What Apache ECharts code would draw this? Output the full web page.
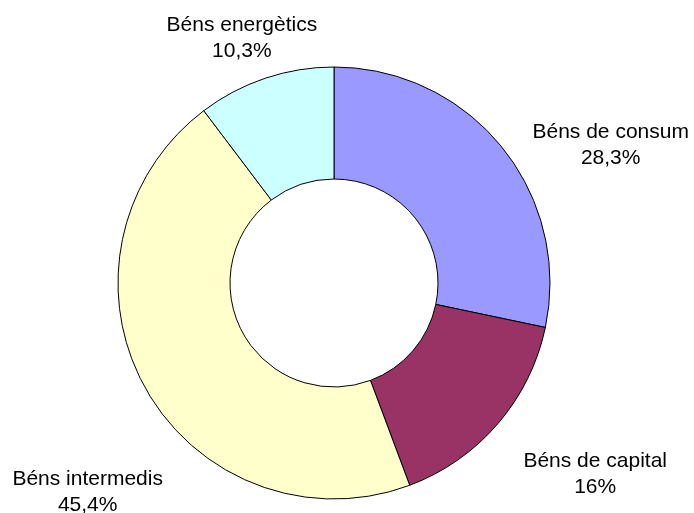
<!DOCTYPE html>
<html>
<head>
<meta charset="utf-8">
<script src="https://cdn.jsdelivr.net/npm/echarts@6/dist/echarts.min.js"></script>
<style>
  html, body { margin: 0; padding: 0; background: #fff; }
  #chart { width: 694px; height: 513px; }
</style>
</head>
<body>
<div id="chart"></div>
<script>
// Donut: Béns per tipus
var categories = ['Béns de consum', 'Béns de capital', 'Béns intermedis', 'Béns energètics'];
var values = [28.3, 16, 45.4, 10.3];
var valueLabels = ['28,3%', '16%', '45,4%', '10,3%'];
var colors = ['#9999FF', '#993366', '#FFFFCC', '#CCFFFF'];

// small label nudges so they sit where the original put them
var labelShift = [[18, 5], [13, 44], [32, 100], [60, -31]];

var chart = echarts.init(document.getElementById('chart'));
chart.setOption({
    animation: false,
    color: colors,
    series: [{
        type: 'pie',
        center: [334, 283],
        radius: [104, 216],
        startAngle: 90,
        clockwise: true,
        avoidLabelOverlap: false,
        data: categories.map(function (c, i) {
            return { name: c, value: values[i] };
        }),
        itemStyle: {
            borderColor: '#000',
            borderWidth: 1
        },
        label: {
            show: true,
            position: 'outside',
            fontFamily: '"Liberation Sans", Arial, sans-serif',
            fontSize: 21,
            lineHeight: 26,
            color: '#000',
            formatter: function (p) {
                return p.name + '\n' + valueLabels[p.dataIndex];
            }
        },
        labelLine: { show: false, length: 10, length2: 0 },
        labelLayout: function (p) {
            var w = p.labelRect.width;
            var s = labelShift[p.dataIndex];
            return {
                align: 'center',
                dx: (p.align === 'left' ? 1 : -1) * w / 2 + s[0],
                dy: s[1]
            };
        },
        emphasis: { disabled: true }
    }]
});
</script>
</body>
</html>
